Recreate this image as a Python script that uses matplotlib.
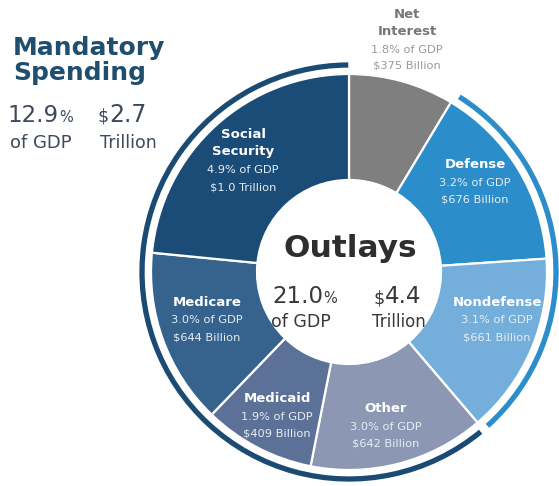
import matplotlib
matplotlib.use("Agg")
import matplotlib.pyplot as plt
from matplotlib.patches import Arc

# ---- data ----
categories = ["Net Interest", "Defense", "Nondefense", "Other", "Medicaid", "Medicare", "Social Security"]
pct_gdp = [1.8, 3.2, 3.1, 3.0, 1.9, 3.0, 4.9]
dollars = ["$375 Billion", "$676 Billion", "$661 Billion", "$642 Billion", "$409 Billion", "$644 Billion", "$1.0 Trillion"]
title_lines = ["Net\nInterest", "Defense", "Nondefense", "Other", "Medicaid", "Medicare", "Social\nSecurity"]
colors = ["#7f7f7f", "#2b8dc9", "#74aedb", "#8c98b3", "#5b7198", "#35638d", "#1b4c77"]
mandatory_group = ["Other", "Medicaid", "Medicare", "Social Security"]
discretionary_group = ["Defense", "Nondefense"]
total_pct = "21.0"
total_dollars = "4.4"
mand_pct = "12.9"
mand_dollars = "2.7"

W, H = 559, 486
fig = plt.figure(figsize=(W / 100, H / 100), dpi=100)
ax = fig.add_axes([0, 0, 1, 1])

def Y(y):
    return H - y

cx, cy = 349, 272
R_out, R_in = 198, 92

ax.pie(pct_gdp, colors=colors, startangle=90, counterclock=False,
       radius=R_out, center=(cx, Y(cy)),
       wedgeprops=dict(width=R_out - R_in, edgecolor="white", linewidth=1.6))
ax.set_xlim(0, W)
ax.set_ylim(0, H)
ax.set_aspect("equal")
ax.axis("off")

# group arcs
total = sum(pct_gdp)
starts, ends = [], []
acc = 0.0
for v in pct_gdp:
    starts.append(acc / total * 360)
    acc += v
    ends.append(acc / total * 360)

def group_span(names):
    idx = [categories.index(n) for n in names]
    return min(starts[i] for i in idx), max(ends[i] for i in idx)

def draw_arc(a, b, color):
    arc = Arc((cx, Y(cy)), 2 * 207, 2 * 207, theta1=90 - b, theta2=90 - a,
              lw=3.8, color=color, capstyle="butt")
    ax.add_patch(arc)

a, b = group_span(discretionary_group)
draw_arc(a + 1.2, b - 1.5, "#2b8dc9")
a, b = group_span(mandatory_group)
draw_arc(a + 1.0, 359.8, "#1b4a73")

# ---- wedge labels ----
label_pos = {
    "Net Interest": (407, 15, 32, [50, 66]),
    "Defense": (475, 165, None, [183, 200]),
    "Nondefense": (497, 303, None, [320, 337]),
    "Other": (386, 409, None, [427, 443]),
    "Medicaid": (277, 399, None, [417, 433]),
    "Medicare": (207, 302, None, [320, 337]),
    "Social Security": (243, 135, 152, [170, 187]),
}
for i, cat in enumerate(categories):
    x, y1, y2, subs = label_pos[cat]
    if cat == "Net Interest":
        tc, sc = "#777777", "#999999"
    else:
        tc, sc = "white", "#e6edf4"
    lines = title_lines[i].split("\n")
    ys = [y1] if y2 is None else [y1, y2]
    for ln, yy in zip(lines, ys):
        ax.text(x, Y(yy), ln, ha="center", va="center", fontsize=9.5,
                fontweight="bold", color=tc)
    ax.text(x, Y(subs[0]), f"{pct_gdp[i]}% of GDP", ha="center", va="center",
            fontsize=8.2, color=sc)
    ax.text(x, Y(subs[1]), dollars[i], ha="center", va="center",
            fontsize=8.2, color=sc)

# ---- Mandatory spending block ----
navy = "#1f4e6e"
num_c = "#3d4a5a"
ax.text(13, Y(55), "Mandatory", fontsize=18, fontweight="heavy", color=navy,
        ha="left", va="baseline")
ax.text(13, Y(80), "Spending", fontsize=18, fontweight="heavy", color=navy,
        ha="left", va="baseline")
ax.text(59, Y(122), mand_pct, fontsize=16.5, color=num_c, ha="right", va="baseline")
ax.text(59, Y(122), "%", fontsize=10.5, color=num_c, ha="left", va="baseline")
ax.text(10, Y(148), "of GDP", fontsize=13, color=num_c, ha="left", va="baseline")
ax.text(109, Y(122), "$", fontsize=12.5, color=num_c, ha="right", va="baseline")
ax.text(109, Y(122), mand_dollars, fontsize=17, color=num_c, ha="left", va="baseline")
ax.text(100, Y(148), "Trillion", fontsize=12.5, color=num_c, ha="left", va="baseline")

# ---- center block ----
ax.text(350, Y(257), "Outlays", fontsize=22.5, color="#2e2e2e", ha="center",
        va="baseline", fontweight="semibold")
cc = "#383838"
ax.text(323, Y(303), total_pct, fontsize=16.5, color=cc, ha="right", va="baseline")
ax.text(323, Y(303), "%", fontsize=10.5, color=cc, ha="left", va="baseline")
ax.text(301, Y(327), "of GDP", fontsize=12.5, color=cc, ha="center", va="baseline")
ax.text(385, Y(303), "$", fontsize=12.5, color=cc, ha="right", va="baseline")
ax.text(385, Y(303), total_dollars, fontsize=16.5, color=cc, ha="left", va="baseline")
ax.text(399, Y(327), "Trillion", fontsize=12, color=cc, ha="center", va="baseline")

fig.savefig("out.png", dpi=100, facecolor="white")
